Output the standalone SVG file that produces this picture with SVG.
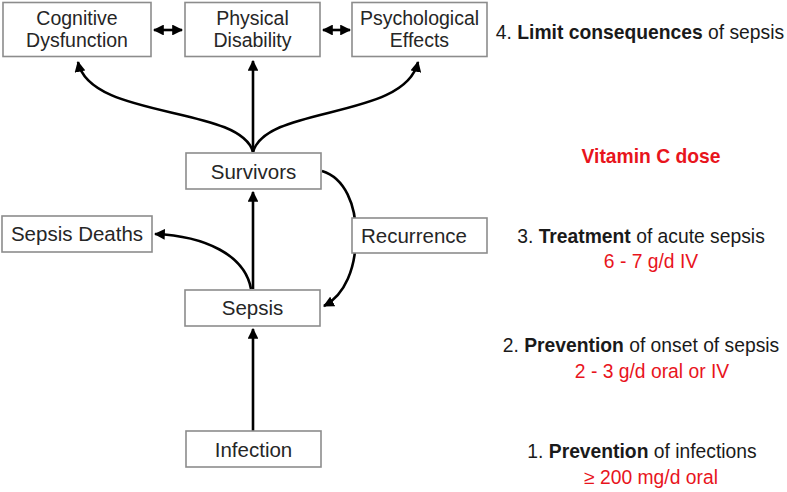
<svg xmlns="http://www.w3.org/2000/svg" width="787" height="492" viewBox="0 0 787 492">
<defs>
<style>
.box{fill:#fff;stroke:#8c8c8c;stroke-width:1.6}
.t{font-family:"Liberation Sans",Arial,sans-serif;fill:#262626;text-anchor:middle}
.s19{font-size:19.5px}
.s20{font-size:20.5px}
.r{font-family:"Liberation Sans",Arial,sans-serif;font-size:19.3px;text-anchor:middle}
.red{fill:#e8141c}
.blk{fill:#1a1a1a}
.c{fill:none;stroke:#000;stroke-width:2.6}
</style>
<marker id="ah" viewBox="0 0 10 10" refX="9" refY="5" markerWidth="4.2" markerHeight="4.2" orient="auto-start-reverse" markerUnits="strokeWidth">
<path d="M0,0 L10,5 L0,10 z" fill="#000"/>
</marker>
</defs>
<rect width="787" height="492" fill="#fff"/>
<g id="connectors">
<path class="c" d="M253 152 C240 105 90 120 78 62" marker-end="url(#ah)"/>
<path class="c" d="M253 152 L253 61" marker-end="url(#ah)"/>
<path class="c" d="M253 152 C266 105 405 120 418 62" marker-end="url(#ah)"/>
<path class="c" d="M154 30 L182 30" marker-start="url(#ah)" marker-end="url(#ah)"/>
<path class="c" d="M323 30 L350 30" marker-start="url(#ah)" marker-end="url(#ah)"/>
<path class="c" d="M253 289 L253 192" marker-end="url(#ah)"/>
<path class="c" d="M251 289 C245 255 205 236 155 234" marker-end="url(#ah)"/>
<path class="c" d="M253 431 L253 329" marker-end="url(#ah)"/>
<path class="c" d="M322 171 C345 178 356 205 356 235 C356 268 345 295 324 306" marker-end="url(#ah)"/>
</g>
<g id="cognitive">
<rect class="box" x="3" y="2.5" width="148" height="54"/>
<text class="t s19" x="77" y="25">Cognitive</text>
<text class="t s19" x="77" y="47">Dysfunction</text>
</g>
<g id="physical">
<rect class="box" x="185" y="2.5" width="135" height="54"/>
<text class="t s19" x="252.5" y="25">Physical</text>
<text class="t s19" x="252.5" y="47">Disability</text>
</g>
<g id="psychological">
<rect class="box" x="352" y="2.5" width="135" height="54"/>
<text class="t s19" x="419.5" y="25">Psychological</text>
<text class="t s19" x="419.5" y="47">Effects</text>
</g>
<g id="survivors">
<rect class="box" x="186" y="153" width="135" height="36"/>
<text class="t s20" x="253.5" y="179">Survivors</text>
</g>
<g id="sepsis-deaths">
<rect class="box" x="2" y="216" width="150" height="36"/>
<text class="t s20" x="77" y="241">Sepsis Deaths</text>
</g>
<g id="recurrence">
<rect class="box" x="352" y="218" width="135" height="35"/>
<text class="t s20" x="414" y="243">Recurrence</text>
</g>
<g id="sepsis">
<rect class="box" x="185" y="290" width="135" height="36"/>
<text class="t s20" x="252.5" y="315">Sepsis</text>
</g>
<g id="infection">
<rect class="box" x="186" y="431" width="135" height="36"/>
<text class="t s20" x="253.5" y="457">Infection</text>
</g>
<g id="labels">
<text class="r blk" x="640" y="39">4. <tspan font-weight="bold">Limit consequences</tspan> of sepsis</text>
<text class="r red" x="651" y="163" font-weight="bold">Vitamin C dose</text>
<text class="r blk" x="641" y="243">3. <tspan font-weight="bold">Treatment</tspan> of acute sepsis</text>
<text class="r red" x="651" y="268">6 - 7 g/d IV</text>
<text class="r blk" x="641" y="352">2. <tspan font-weight="bold">Prevention</tspan> of onset of sepsis</text>
<text class="r red" x="652" y="378">2 - 3 g/d oral or IV</text>
<text class="r blk" x="642" y="458">1. <tspan font-weight="bold">Prevention</tspan> of infections</text>
<text class="r red" x="651" y="484">≥ 200 mg/d oral</text>
</g>
</svg>
